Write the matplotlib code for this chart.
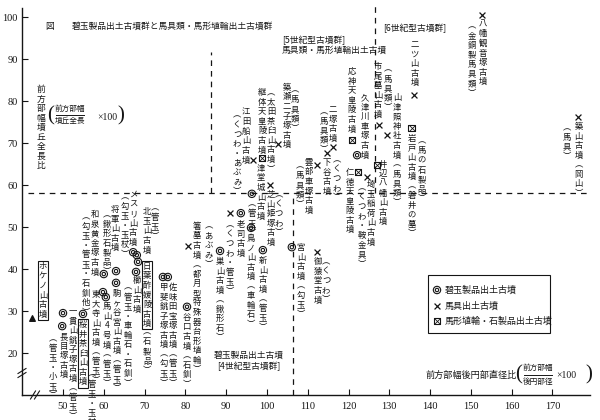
import matplotlib
matplotlib.use("Agg")
import matplotlib.pyplot as plt
from matplotlib.patches import Rectangle
from matplotlib.lines import Line2D

plt.rcParams['font.family'] = ['Noto Sans CJK JP', 'DejaVu Sans']

# ---------------- data ----------------
names = ["ホケノ山古墳", "長目塚古墳", "一貫山銚子塚古墳", "桜井茶臼山古墳", "東大寺山古墳",
         "馬山4号墳", "和泉黄金塚古墳", "駒ヶ谷宮山古墳", "将軍山古墳", "メスリ山古墳",
         "北玉山古墳", "日葉酢媛陵古墳", "櫛山古墳", "甲斐銚子塚古墳", "佐味田宝塚古墳",
         "谷口古墳", "箸墓古墳", "巣山古墳", "老司古墳", "老司古墳",
         "新山古墳", "鳥ノ山古墳", "津堂城山古墳", "江田船山古墳", "継体天皇陵古墳",
         "築瀬二子塚古墳", "芝山姫塚古墳", "宮山古墳", "御猿堂古墳", "雲部車塚古墳",
         "二塚古墳", "下谷古墳", "応神天皇陵古墳", "久津川車塚古墳", "仁徳天皇陵古墳",
         "埼玉稲荷山古墳", "井辺八幡山古墳", "市尾墓山古墳", "山津照神社古墳", "岩戸山古墳",
         "二ツ山古墳", "八幡観音塚古墳", "築山古墳"]
x_vals = [42.4, 49.8, 50.0, 54.9, 59.8,
          60.5, 60.0, 63.0, 63.0, 67.2,
          68.1, 68.4, 67.9, 74.5, 75.7,
          80.4, 80.6, 88.5, 93.6, 90.9,
          99.0, 96.1, 96.3, 96.6, 98.8,
          102.7, 100.7, 106.1, 112.3, 112.3,
          116.2, 114.7, 120.8, 122.1, 122.3,
          124.5, 127.0, 127.5, 129.4, 135.5,
          136.0, 152.7, 176.2]
y_vals = [28.3, 26.4, 29.5, 29.3, 34.5,
          33.3, 38.8, 36.7, 39.5, 44.0,
          43.3, 41.7, 39.3, 38.1, 38.1,
          31.0, 45.5, 44.3, 53.3, 53.3,
          44.5, 49.8, 57.9, 66.0, 66.4,
          69.8, 60.0, 45.2, 44.0, 64.8,
          69.0, 67.6, 70.7, 67.1, 63.1,
          61.9, 64.8, 74.3, 71.9, 73.6,
          81.4, 100.5, 76.2]
# T: ホケノ山, J: 碧玉製品, H: 馬具, B: 馬形埴輪・石製品
kinds = ['T', 'J', 'J', 'J', 'J',
         'J', 'J', 'J', 'J', 'J',
         'J', 'J', 'J', 'J', 'J',
         'J', 'H', 'J', 'J', 'H',
         'J', 'J', 'J', 'H', 'B',
         'H', 'H', 'J', 'H', 'H',
         'H', 'H', 'B', 'J', 'B',
         'H', 'B', 'H', 'H', 'B',
         'H', 'H', 'H']

x_ticks = [50, 60, 70, 80, 90, 100, 110, 120, 130, 140, 150, 160, 170]
y_ticks = [20, 30, 40, 50, 60, 70, 80, 90, 100]

# group boundaries
bound_y = 58.1
bound_x = [86.3, 106.5, 126.6]
bound_x_span = [(58.1, 91.7), (10.0, 58.1), (58.1, 102.9)]

legend_labels = ["碧玉製品出土古墳", "馬具出土古墳", "馬形埴輪・石製品出土古墳"]

# label layout: (text, dx px, dy px of column top, boxed)
LAB = [
    [("ホケノ山古墳", 11, 56, True)],
    [("長目塚古墳", 2, -6, False), ("(管玉・小玉)", -9, -8, False)],
    [("一貫山銚子塚古墳(管玉)", 10, 6, False)],
    [("桜井茶臼山古墳", 0, -6, True), ("(管玉・玉杖)", 9, -56, False)],
    [("東大寺山古墳(管玉)", -7, 2, False)],
    [("馬山4号墳(管玉)", 1, -5, False)],
    [("和泉黄金塚古墳", -9, 64, False), ("(勾玉・管玉・石釧他)", -18, 62, False)],
    [("駒ヶ谷宮山古墳(管玉)", 1, -6, False)],
    [("将軍山古墳", -1, 66, False), ("(鍬形石製品)", -9, 61, False)],
    [("メスリ山古墳", 0, 62, False), ("(勾玉・玉杖)", -8, 60, False)],
    [("北玉山古墳", 10, 48, False), ("(管玉)", 18, 52, False)],
    [("日葉酢媛陵古墳", 9, 0, True), ("(石製品)", 9, -66, False)],
    [("櫛山古墳", 1, -4, False), ("(管玉・車輪石・石釧)", -8, -11, False)],
    [("甲斐銚子塚古墳(勾玉)", 1, -6, False)],
    [("佐味田宝塚古墳(管玉)", 5, -6, False)],
    [("谷口古墳(石釧)", 0, -6, False)],
    [("箸墓古墳(都月型特殊器台形埴輪)", 9, 24, False), ("(あぶみ)", 21, 24, False)],
    [("巣山古墳(鍬形石)", 0, -6, False)],
    [("老司古墳", 0, -7, False)],
    [("(くつわ・管玉)", 0, -7, False)],
    [("新山古墳(管玉)", 0, -6, False)],
    [("鳥ノ山古墳(車輪石)", 0, -6, False)],
    [("津堂城山古墳", 9, 30, False), ("(管玉)", 0, -6, False)],
    [("江田船山古墳", -7, 52, False), ("(くつわ・あぶみ)", -16, 49, False)],
    [("継体天皇陵古墳", 0, 70, False), ("(太田茶臼山古墳)", 9, 70, False)],
    [("築瀬二子塚古墳", 9, 61, False), ("(馬具類)", 17, 58, False)],
    [("芝山姫塚古墳", 1, -5, False), ("(くつわ)", 9, -5, False)],
    [("宮山古墳(勾玉)", 9, 4, False)],
    [("御猿堂古墳", 1, -5, False), ("(くつわ)", 9, -5, False)],
    [("雲部車塚古墳", -8, 7, False), ("(馬具類)", -17, 3, False)],
    [("二塚古墳", 0, 42, False), ("(馬具類)", -9, 40, False)],
    [("下谷古墳", 0, -5, False), ("(くつわ)", 10, -2, False)],
    [("応神天皇陵古墳", 0, 73, False)],
    [("久津川車塚古墳", 8, 62, False)],
    [("仁徳天皇陵古墳", -8, 4, False)],
    [("埼玉稲荷山古墳", 4, -3, False), ("(くつわ・鞍金具)", -5, -6, False)],
    [("井辺八幡山古墳", 6, 5, False)],
    [("市尾墓山古墳", -1, 63, False), ("(馬具類)", 9, 60, False)],
    [("山津照神社古墳(馬具類)", 10, 42, False)],
    [("岩戸山古墳(磐井の墓)", 0, -6, False), ("(馬の石製品)", 10, -9, False)],
    [("二ツ山古墳", 1, 55, False)],
    [("八幡観音塚古墳", 1, -5, False), ("(金銅製馬具類)", -10, -7, False)],
    [("築山古墳(岡山)", 1, -5, False), ("(馬具)", -11, -6, False)],
]

INK = '#151515'
FS = 6.0
LS = 1.08


def vcol(s):
    s = s.replace('(', '︵').replace(')', '︶')
    return '\n'.join(s)


def F(px, py):
    return px / 600.0, 1 - py / 420.0


fig = plt.figure(figsize=(6, 4.2), dpi=100)
fig.patch.set_facecolor('white')
ax = fig.add_axes([22 / 600, 25 / 420, 568 / 600, 395 / 420])
ax.set_xlim(39.95, 179.2)
ax.set_ylim(10, 104.05)
for s in ['top', 'right']:
    ax.spines[s].set_visible(False)
for s in ['left', 'bottom']:
    ax.spines[s].set_linewidth(1.0)
    ax.spines[s].set_color(INK)
ax.spines['left'].set_bounds(10, 102.2)
ax.set_xticks(x_ticks)
ax.set_yticks(y_ticks)
ax.tick_params(direction='in', length=4, width=0.8, colors=INK, labelsize=7.5)
ax.tick_params(axis='x', pad=5)
ax.tick_params(axis='y', pad=3)
for lab in ax.get_xticklabels() + ax.get_yticklabels():
    lab.set_fontfamily('Liberation Serif')
ax.patch.set_alpha(0)

# boundaries
dash = (0, (4.5, 4))
ax.plot([41.5, 179.0], [bound_y, bound_y], ls=dash, lw=0.9, color=INK, zorder=1)
for bx, (y0, y1) in zip(bound_x, bound_x_span):
    ax.plot([bx, bx], [y0, y1], ls=dash, lw=0.9, color=INK, zorder=1)

# markers
def draw_marker(x, y, k, transform=None):
    kw = {} if transform is None else {'transform': transform, 'clip_on': False}
    if k == 'J':
        ax.scatter([x], [y], s=28, marker='o', facecolors='none', edgecolors=INK, linewidths=0.8, zorder=3, **kw)
        ax.scatter([x], [y], s=6, marker='o', facecolors='none', edgecolors=INK, linewidths=0.8, zorder=3, **kw)
    elif k == 'H':
        ax.scatter([x], [y], s=18, marker='x', c=INK, linewidths=0.9, zorder=3, **kw)
    elif k == 'B':
        ax.scatter([x], [y], s=22, marker='s', facecolors='none', edgecolors=INK, linewidths=0.8, zorder=3, **kw)
        ax.scatter([x], [y], s=22, marker='x', c=INK, linewidths=0.6, zorder=3, **kw)
    else:
        ax.scatter([x], [y], s=16, marker='^', c=INK, zorder=3, **kw)


for x, y, k in zip(x_vals, y_vals, kinds):
    draw_marker(x, y, k)

for x, y, cols in zip(x_vals, y_vals, LAB):
    for text, dx, dy, boxed in cols:
        kw = {}
        if boxed:
            kw['bbox'] = dict(boxstyle='square,pad=0.15', fc='none', ec=INK, lw=0.8)
        ax.annotate(vcol(text), xy=(x, y), xytext=(dx, dy), textcoords='offset pixels',
                    ha='center', va='top', fontsize=FS, linespacing=LS, color=INK,
                    annotation_clip=False, zorder=4, **kw)

# titles and group labels
fig.text(*F(50, 26), "図", fontsize=6.3, ha='center', va='center', color=INK)
fig.text(*F(72, 26), "碧玉製品出土古墳群と馬具類・馬形埴輪出土古墳群", fontsize=6.3,
         ha='left', va='center', color=INK)
fig.text(*F(282, 40), "[5世紀型古墳群]", fontsize=6.3, ha='left', va='center', color=INK)
fig.text(*F(282, 50), "馬具類・馬形埴輪出土古墳", fontsize=6.3, ha='left', va='center', color=INK)
fig.text(*F(383, 28), "[6世紀型古墳群]", fontsize=6.3, ha='left', va='center', color=INK)
fig.text(*F(249, 355), "碧玉製品出土古墳", fontsize=6.3, ha='center', va='center', color=INK)
fig.text(*F(249, 366), "[4世紀型古墳群]", fontsize=6.3, ha='center', va='center', color=INK)

# y-axis label
fig.text(*F(41, 85), vcol("前方部幅墳丘全長比"), fontsize=6.3, linespacing=LS,
         ha='center', va='top', color=INK)
fig.text(*F(51, 116), "(", fontsize=15, family='Liberation Serif', ha='center', va='center', color=INK)
fig.text(*F(70, 109), "前方部幅", fontsize=5.5, ha='center', va='center', color=INK)
fig.add_artist(Line2D([56 / 600, 84 / 600], [1 - 115 / 420, 1 - 115 / 420], lw=0.7, color=INK))
fig.text(*F(70, 121), "墳丘全長", fontsize=5.5, ha='center', va='center', color=INK)
fig.text(*F(97, 117), "×100", fontsize=7.0, family='Liberation Serif', ha='left', va='center', color=INK)
fig.text(*F(121, 116), ")", fontsize=15, family='Liberation Serif', ha='center', va='center', color=INK)

# x-axis label
fig.text(*F(471, 375), "前方部幅後円部直径比", fontsize=6.6, ha='center', va='center', color=INK)
fig.text(*F(519, 375), "(", fontsize=15, family='Liberation Serif', ha='center', va='center', color=INK)
fig.text(*F(538, 368), "前方部幅", fontsize=5.5, ha='center', va='center', color=INK)
fig.add_artist(Line2D([524 / 600, 552 / 600], [1 - 375 / 420, 1 - 375 / 420], lw=0.7, color=INK))
fig.text(*F(538, 382), "後円部径", fontsize=5.5, ha='center', va='center', color=INK)
fig.text(*F(556, 375), "×100", fontsize=7.0, family='Liberation Serif', ha='left', va='center', color=INK)
fig.text(*F(589, 375), ")", fontsize=15, family='Liberation Serif', ha='center', va='center', color=INK)

# axis breaks
for (cx, cy) in [(33, 395), (37, 395)]:
    fig.add_artist(Line2D([(cx - 2.5) / 600, (cx + 2.5) / 600], [1 - (cy + 4) / 420, 1 - (cy - 4) / 420],
                          lw=0.8, color=INK))
for (cx, cy) in [(22, 371), (22, 375)]:
    fig.add_artist(Line2D([(cx - 4) / 600, (cx + 4) / 600], [1 - (cy + 2.5) / 420, 1 - (cy - 2.5) / 420],
                          lw=0.8, color=INK))

# legend
lx0, ly0 = (428 - 22) / 568, (395 - 333) / 395
lw_, lh_ = (550 - 428) / 568, (333 - 275) / 395
ax.add_patch(Rectangle((lx0, ly0), lw_, lh_, transform=ax.transAxes, fill=False,
                       ec=INK, lw=0.8, clip_on=False))
for k, lab, py in zip(['J', 'H', 'B'], legend_labels, [290, 306, 321]):
    mx, my = (437 - 22) / 568, (395 - py) / 395
    draw_marker(mx, my, k, transform=ax.transAxes)
    ax.text((445 - 22) / 568, my, lab, transform=ax.transAxes, fontsize=6.5,
            ha='left', va='center', color=INK)

fig.savefig("out.png", dpi=100, facecolor='white')
